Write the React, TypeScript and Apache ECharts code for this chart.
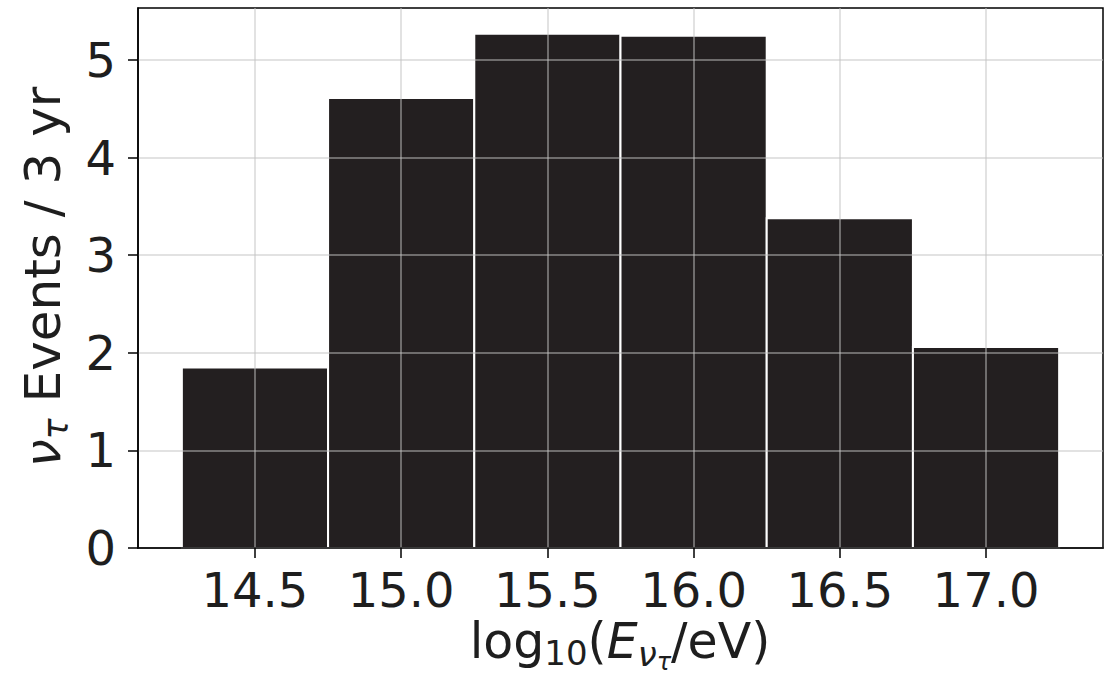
import React, { useEffect, useRef } from "react";
import * as echarts from "echarts";

// Histogram bins (log10 E edges) and event counts
const binLeft = [14.25, 14.75, 15.25, 15.75, 16.25, 16.75];
const binRight = [14.75, 15.25, 15.75, 16.25, 16.75, 17.25];
const events = [1.85, 4.61, 5.27, 5.25, 3.38, 2.06];
const xTicks = [14.5, 15.0, 15.5, 16.0, 16.5, 17.0];
const yTicks = [0, 1, 2, 3, 4, 5];

const FONT = "DejaVu Sans";
const TXT = "#1e1e1e";

export default function App() {
  const ref = useRef<HTMLDivElement>(null);
  useEffect(() => {
    document.body.style.margin = "0";
    const chart = echarts.init(ref.current!, null, { renderer: "svg" });
    const data = binLeft.map((l, i) => [l, binRight[i], events[i]]);
    const yMax = Math.max(...events) * 1.05;
    const gridColor = "rgba(196,196,196,0.64)";
    chart.setOption({
      animation: false,
      backgroundColor: "#fff",
      grid: {
        left: 138,
        right: 12,
        top: 8,
        bottom: 129,
        show: true,
        borderColor: "#000",
        borderWidth: 1.5,
        backgroundColor: "transparent",
      },
      xAxis: {
        type: "value",
        min: 14.1,
        max: 17.4,
        z: 5,
        axisLine: { show: true, onZero: false, lineStyle: { color: "#000", width: 1.5 } },
        axisTick: { show: true, length: 10, customValues: xTicks, lineStyle: { color: "#000", width: 1.5 } },
        axisLabel: {
          customValues: xTicks,
          margin: 18,
          fontFamily: FONT,
          fontSize: 48,
          color: TXT,
          formatter: (v: number) => v.toFixed(1),
        },
        splitLine: { show: true, lineStyle: { color: gridColor, width: 1.5 } },
      },
      yAxis: {
        type: "value",
        min: 0,
        max: yMax,
        z: 5,
        axisLine: { show: true, lineStyle: { color: "#000", width: 1.5 } },
        axisTick: { show: true, length: 10, customValues: yTicks, lineStyle: { color: "#000", width: 1.5 } },
        axisLabel: {
          customValues: yTicks,
          margin: 22,
          fontFamily: FONT,
          fontSize: 48,
          color: TXT,
          formatter: (v: number) => String(Math.round(v)),
        },
        splitLine: { show: true, lineStyle: { color: gridColor, width: 1.5 } },
      },
      series: [
        {
          type: "custom",
          z: 2,
          data,
          encode: { x: [0, 1], y: 2 },
          renderItem: (params: any, api: any) => {
            const p0 = api.coord([api.value(0), api.value(2)]);
            const p1 = api.coord([api.value(1), 0]);
            return {
              type: "rect",
              shape: { x: p0[0], y: p0[1], width: p1[0] - p0[0], height: p1[1] - p0[1] },
              style: { fill: "#231f20", stroke: "#ffffff", lineWidth: 2 },
            };
          },
        },
      ],
      graphic: [
        {
          type: "text",
          x: 620,
          y: 641,
          style: {
            text: "{a|log}{s|10}{a|(}{e|E}{sn|ν}{st|τ}{a|/eV)}",
            align: "center",
            verticalAlign: "middle",
            fill: TXT,
            font: `49px "${FONT}"`,
            rich: {
              a: { fontSize: 49, fontFamily: FONT, fill: TXT },
              s: { fontSize: 34, fontFamily: FONT, fill: TXT, padding: [24, 0, 0, 0] },
              e: { fontSize: 49, fontFamily: FONT, fontStyle: "italic", fill: TXT },
              sn: { fontSize: 34, fontFamily: FONT, fontStyle: "italic", fill: TXT, padding: [26, 0, 0, 0] },
              st: { fontSize: 24, fontFamily: FONT, fontStyle: "italic", fill: TXT, padding: [42, 0, 0, 0] },
            },
          },
        },
        {
          type: "text",
          x: 43,
          y: 277,
          rotation: Math.PI / 2,
          style: {
            text: "{nu|ν}{tau|τ}{m| Events / 3 yr}",
            align: "center",
            verticalAlign: "middle",
            fill: TXT,
            font: `50px "${FONT}"`,
            rich: {
              nu: { fontSize: 50, fontFamily: FONT, fontStyle: "italic", fill: TXT },
              tau: { fontSize: 35, fontFamily: FONT, fontStyle: "italic", fill: TXT, padding: [26, 0, 0, 0] },
              m: { fontSize: 50, fontFamily: FONT, fill: TXT },
            },
          },
        },
      ],
    });
    return () => chart.dispose();
  }, []);
  return <div ref={ref} style={{ width: 1115, height: 677 }} />;
}
